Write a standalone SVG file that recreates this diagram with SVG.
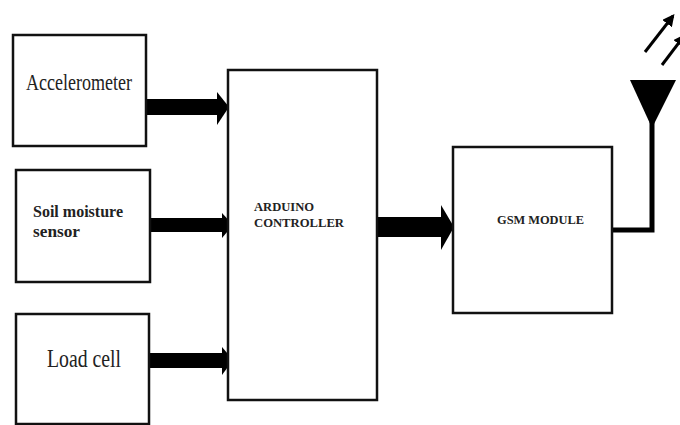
<svg xmlns="http://www.w3.org/2000/svg" width="680" height="425" viewBox="0 0 680 425">
<style>
.box{fill:#fff;stroke:#111;stroke-width:2.5}
.t{font-family:"Liberation Serif","Times New Roman",serif;fill:#222}
.b{font-weight:bold}
.arr{fill:#000}
</style>
<defs>
<marker id="ah" viewBox="0 0 10 10" refX="8" refY="5" markerWidth="4" markerHeight="4" orient="auto" markerUnits="strokeWidth">
<path d="M0,0 L10,5 L0,10 z" fill="#000"/>
</marker>
</defs>
<rect width="680" height="425" fill="#fff"/>
<g id="connectors">
<rect class="arr" x="146" y="99" width="73" height="16"/>
<polygon class="arr" points="217,92 229,107 217,125"/>
<rect class="arr" x="150" y="218" width="75" height="14"/>
<polygon class="arr" points="222,213 233,225 222,238"/>
<rect class="arr" x="149" y="353" width="75" height="15"/>
<polygon class="arr" points="222,347 233,360 222,375"/>
<rect class="arr" x="377" y="217" width="66" height="20"/>
<polygon class="arr" points="441,205 454,227 441,250"/>
<polyline points="612,230 652,230 652,122" fill="none" stroke="#000" stroke-width="5"/>
</g>
<g id="accelerometer">
<rect class="box" x="13" y="35" width="133" height="111"/>
<text class="t" x="79" y="90" font-size="24" text-anchor="middle" textLength="106" lengthAdjust="spacingAndGlyphs">Accelerometer</text>
</g>
<g id="soil">
<rect class="box" x="16" y="170" width="134" height="112"/>
<text class="t b" x="33" y="217" font-size="16" textLength="90" lengthAdjust="spacingAndGlyphs">Soil moisture</text>
<text class="t b" x="33" y="237" font-size="16" textLength="47" lengthAdjust="spacingAndGlyphs">sensor</text>
</g>
<g id="loadcell">
<rect class="box" x="16" y="314" width="133" height="110"/>
<text class="t" x="84" y="367" font-size="26" text-anchor="middle" textLength="74" lengthAdjust="spacingAndGlyphs">Load cell</text>
</g>
<g id="arduino">
<rect class="box" x="228" y="70" width="149" height="330"/>
<text class="t b" x="254" y="211" font-size="13" textLength="60" lengthAdjust="spacingAndGlyphs">ARDUINO</text>
<text class="t b" x="254" y="227" font-size="13" textLength="90" lengthAdjust="spacingAndGlyphs">CONTROLLER</text>
</g>
<g id="gsm">
<rect class="box" x="453" y="147" width="159" height="166"/>
<text class="t b" x="497" y="224" font-size="12.5" textLength="87" lengthAdjust="spacingAndGlyphs">GSM MODULE</text>
</g>
<g id="antenna">
<polygon points="630,80 676,80 652,128" fill="#000"/>
<line x1="645" y1="52" x2="673" y2="16" stroke="#000" stroke-width="3" marker-end="url(#ah)"/>
<line x1="662" y1="65" x2="684" y2="36" stroke="#000" stroke-width="3" marker-end="url(#ah)"/>
</g>
</svg>
